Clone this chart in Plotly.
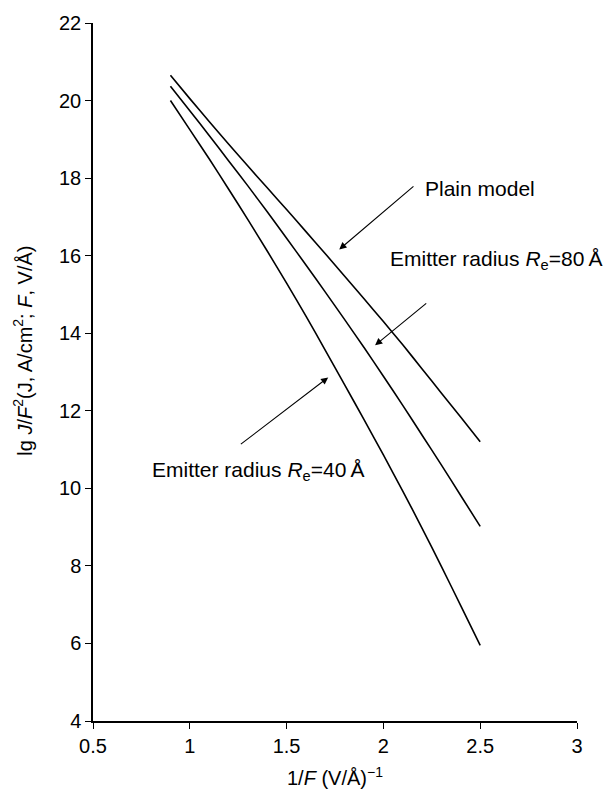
import plotly.graph_objects as go

inv_F = [0.9, 1.0, 1.1, 1.2, 1.3, 1.4, 1.5, 1.6, 1.7, 1.8, 1.9, 2.0, 2.1, 2.2, 2.3, 2.4, 2.5]
plain_model = [20.65, 20.05, 19.46, 18.88, 18.31, 17.75, 17.19, 16.62, 16.05, 15.47, 14.89, 14.3, 13.7, 13.08, 12.45, 11.83, 11.2]
radius_80 = [20.37, 19.74, 19.1, 18.45, 17.8, 17.13, 16.45, 15.76, 15.06, 14.35, 13.63, 12.89, 12.14, 11.37, 10.6, 9.81, 9.02]
radius_40 = [20.0, 19.25, 18.5, 17.72, 16.93, 16.12, 15.29, 14.44, 13.56, 12.67, 11.77, 10.86, 9.93, 8.97, 7.98, 6.97, 5.95]

x_ticks = [0.5, 1, 1.5, 2, 2.5, 3]
x_ticklabels = ["0.5", "1", "1.5", "2", "2.5", "3"]
y_ticks = [4, 6, 8, 10, 12, 14, 16, 18, 20, 22]

labels = ["Plain model",
          "Emitter radius <i>R</i><sub>e</sub>=80\u2009Å",
          "Emitter radius <i>R</i><sub>e</sub>=40\u2009Å"]
label_pos = [(2.205, 17.72), (2.024, 15.88), (0.794, 10.45)]
arrow_tail = [(2.163, 17.82), (2.229, 14.80), (1.256, 11.11)]
arrow_head = [(1.772, 16.16), (1.957, 13.69), (1.715, 12.86)]

FONT = "Liberation Sans, Arial, Helvetica, sans-serif"

fig = go.Figure()
for ys in (plain_model, radius_80, radius_40):
    fig.add_trace(go.Scatter(x=inv_F, y=ys, mode="lines",
                             line=dict(color="black", width=1.6, shape="spline", smoothing=0.6),
                             showlegend=False, hoverinfo="skip"))

annotations = []
for txt, (lx, ly) in zip(labels, label_pos):
    annotations.append(dict(x=lx, y=ly, xref="x", yref="y", text=txt,
                            showarrow=False, xanchor="left", yanchor="middle",
                            font=dict(family=FONT, size=21, color="black")))
for (tx, ty), (hx, hy) in zip(arrow_tail, arrow_head):
    annotations.append(dict(x=hx, y=hy, ax=tx, ay=ty, xref="x", yref="y",
                            axref="x", ayref="y", text="", showarrow=True,
                            arrowhead=2, arrowsize=1.3, arrowwidth=1.1,
                            arrowcolor="black"))
annotations.append(dict(x=0.5, y=0, xref="paper", yref="paper",
                        yshift=-41, xanchor="center", yanchor="top",
                        text="1/<i>F</i> (V/Å)<sup>\u22121</sup>", showarrow=False,
                        font=dict(family=FONT, size=20, color="black")))
annotations.append(dict(x=0, y=0.5306, xref="paper", yref="paper",
                        xshift=-70, xanchor="center", yanchor="middle",
                        textangle=-90,
                        text="lg <i>J</i>/<i>F</i><sup>2</sup>(J, A/cm<sup>2</sup>; <i>F</i>, V/Å)",
                        showarrow=False,
                        font=dict(family=FONT, size=20, color="black")))

fig.update_layout(
    width=611, height=792,
    margin=dict(l=93, r=34, t=18, b=71),
    paper_bgcolor="white", plot_bgcolor="white",
    font=dict(family=FONT, size=20, color="black"),
    annotations=annotations,
    xaxis=dict(range=[0.5, 3], tickvals=x_ticks, ticktext=x_ticklabels,
               showline=True, linecolor="black", linewidth=1.5,
               ticks="outside", ticklen=6, tickcolor="black", tickwidth=1.2,
               showgrid=False, zeroline=False,
               tickfont=dict(family=FONT, size=20)),
    yaxis=dict(range=[4, 22], tickvals=y_ticks,
               showline=True, linecolor="black", linewidth=1.5,
               ticks="outside", ticklen=6, tickcolor="black", tickwidth=1.2,
               showgrid=False, zeroline=False,
               tickfont=dict(family=FONT, size=20)),
)

fig.write_html("out.html")
